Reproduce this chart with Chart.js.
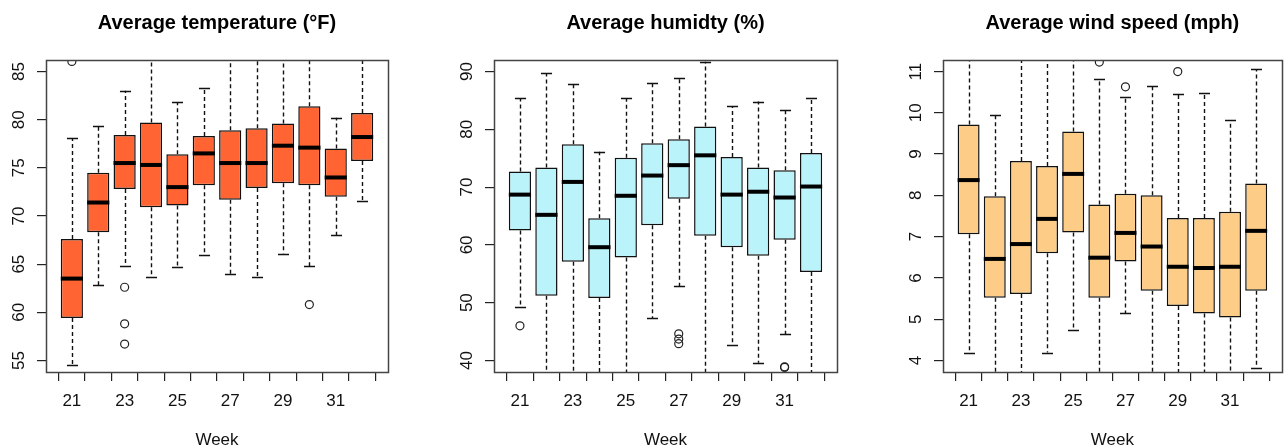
<!DOCTYPE html>
<html>
<head>
<meta charset="utf-8">
<script src="https://cdn.jsdelivr.net/npm/chart.js@4/dist/chart.umd.min.js"></script>
<style>
  html, body { margin: 0; padding: 0; background: #fff; }
  .panel { position: absolute; top: 0; width: 429px; height: 447px; }
</style>
</head>
<body>
<div class="panel" style="left:0"><canvas id="temp-chart" width="429" height="447"></canvas></div>
<div class="panel" style="left:429px"><canvas id="hum-chart" width="429" height="447"></canvas></div>
<div class="panel" style="left:858px"><canvas id="wind-chart" width="429" height="447"></canvas></div>
<script>
// weeks on the x axis, labels only shown on odd weeks (like the R plot)
const weeks = [21, 22, 23, 24, 25, 26, 27, 28, 29, 30, 31, 32];
const weekLabels = [21, 23, 25, 27, 29, 31];

// Average temperature (°F)
const tempLow  = [54.5, 62.8, 64.8, 63.7, 64.7, 65.9, 64.0, 63.7, 66.1, 64.8, 68.0, 71.6];
const tempQ1   = [59.4, 68.3, 72.8, 70.9, 71.1, 73.2, 71.7, 72.9, 73.4, 73.2, 72.0, 75.7];
const tempMed  = [63.5, 71.4, 75.5, 75.3, 73.0, 76.5, 75.5, 75.5, 77.3, 77.1, 74.0, 78.2];
const tempQ3   = [67.6, 74.5, 78.4, 79.7, 76.4, 78.3, 78.9, 79.1, 79.6, 81.4, 77.0, 80.7];
const tempHigh = [78.1, 79.3, 83.0, 88.0, 81.8, 83.3, 88.0, 88.0, 88.0, 88.0, 80.2, 88.0];
const tempOutWeek = [21, 23, 23, 23, 30];
const tempOutVal  = [86.05, 62.6, 58.8, 56.7, 60.8];
const tempTicks = [55, 60, 65, 70, 75, 80, 85];

// Average humidty (%)
const humLow  = [49.3, 36.0, 36.0, 36.0, 36.0, 47.3, 52.8, 36.0, 42.6, 39.6, 44.5, 36.0];
const humQ1   = [62.5, 51.2, 57.1, 50.8, 57.8, 63.4, 68.0, 61.6, 59.6, 58.1, 60.9, 55.3];
const humMed  = [68.7, 65.2, 70.9, 59.6, 68.5, 72.0, 73.8, 75.5, 68.7, 69.2, 68.2, 70.1];
const humQ3   = [72.7, 73.4, 77.4, 64.6, 75.1, 77.6, 78.3, 80.5, 75.2, 73.4, 72.9, 75.9];
const humHigh = [85.4, 89.7, 87.9, 76.1, 85.4, 88.1, 88.9, 91.7, 84.0, 84.8, 83.3, 85.5];
const humOutWeek = [21, 27, 27, 27, 31, 31];
const humOutVal  = [46.0, 44.6, 43.7, 42.9, 38.9, 38.8];
const humTicks = [40, 50, 60, 70, 80, 90];

// Average wind speed (mph)
const windLow  = [4.19, 3.5, 3.5, 4.19, 4.73, 3.5, 5.14, 3.5, 3.5, 3.5, 3.5, 3.82];
const windQ1   = [7.06, 5.52, 5.61, 6.60, 7.10, 5.52, 6.40, 5.69, 5.32, 5.14, 5.04, 5.69];
const windMed  = [8.37, 6.46, 6.82, 7.43, 8.52, 6.49, 7.09, 6.76, 6.27, 6.24, 6.27, 7.14];
const windQ3   = [9.72, 7.98, 8.83, 8.71, 9.55, 7.78, 8.04, 8.00, 7.45, 7.45, 7.60, 8.29];
const windHigh = [11.6, 9.94, 11.6, 11.6, 11.6, 10.82, 10.38, 10.64, 10.45, 10.48, 9.82, 11.06];
const windOutWeek = [26, 27, 29];
const windOutVal  = [11.23, 10.63, 11.0];
const windTicks = [4, 5, 6, 7, 8, 9, 10, 11];

Chart.defaults.font.family = '"Liberation Sans", Arial, sans-serif';
Chart.defaults.color = '#111';

function makeBoxChart(id, title, color, low, q1, med, q3, high, outWeek, outVal, yTicks, yMin, yMax, padLeft, padRight) {
  // whiskers, caps, medians and the plot frame, drawn through the chart scales
  const boxExtras = {
    id: 'boxExtras',
    beforeDatasetsDraw(chart) {
      const { ctx, chartArea: a, scales: { x, y } } = chart;
      const bars = chart.getDatasetMeta(0).data;
      ctx.save();
      ctx.beginPath();
      ctx.rect(a.left, a.top, a.right - a.left, a.bottom - a.top);
      ctx.clip();
      ctx.strokeStyle = '#111';
      ctx.lineWidth = 1.4;
      weeks.forEach((w, i) => {
        const px = Math.round(x.getPixelForValue(w)) + 0.5;
        const half = bars[i].width / 4;
        ctx.setLineDash([4, 3]);
        ctx.beginPath();
        ctx.moveTo(px, y.getPixelForValue(q3[i]));
        ctx.lineTo(px, y.getPixelForValue(high[i]));
        ctx.moveTo(px, y.getPixelForValue(q1[i]));
        ctx.lineTo(px, y.getPixelForValue(low[i]));
        ctx.stroke();
        ctx.setLineDash([]);
        ctx.beginPath();
        [high[i], low[i]].forEach(v => {
          const py = Math.round(y.getPixelForValue(v)) + 0.5;
          ctx.moveTo(px - half, py);
          ctx.lineTo(px + half, py);
        });
        ctx.stroke();
      });
      ctx.restore();
    },
    afterDatasetsDraw(chart) {
      const { ctx, chartArea: a, scales: { y } } = chart;
      const bars = chart.getDatasetMeta(0).data;
      ctx.save();
      ctx.strokeStyle = '#000';
      ctx.lineWidth = 4;
      bars.forEach((bar, i) => {
        const py = y.getPixelForValue(med[i]);
        ctx.beginPath();
        ctx.moveTo(bar.x - bar.width / 2, py);
        ctx.lineTo(bar.x + bar.width / 2, py);
        ctx.stroke();
      });
      ctx.lineWidth = 1.5;
      ctx.strokeStyle = '#444';
      ctx.strokeRect(Math.round(a.left) + 0.5, Math.round(a.top) + 0.5,
        Math.round(a.right - a.left), Math.round(a.bottom - a.top));
      ctx.restore();
    }
  };

  return new Chart(document.getElementById(id), {
    type: 'bar',
    data: {
      datasets: [
        {
          type: 'bar',
          data: weeks.map((w, i) => ({ x: w, y: [q1[i], q3[i]] })),
          backgroundColor: color,
          borderColor: '#111',
          borderWidth: 1.5,
          borderSkipped: false,
          barPercentage: 0.84,
          categoryPercentage: 1.0
        },
        {
          type: 'scatter',
          data: outWeek.map((w, i) => ({ x: w, y: outVal[i] })),
          pointStyle: 'circle',
          pointRadius: 4,
          pointBorderWidth: 1.2,
          pointBorderColor: '#222',
          pointBackgroundColor: 'rgba(0,0,0,0)',
          showLine: false
        }
      ]
    },
    options: {
      responsive: false,
      animation: false,
      events: [],
      layout: { padding: { left: padLeft - 46, right: padRight, top: 0, bottom: 0 } },
      plugins: {
        legend: { display: false },
        tooltip: { enabled: false },
        title: {
          display: true,
          text: title,
          fullSize: false,
          color: '#000',
          font: { size: 20, weight: 'bold' },
          padding: { top: 11, bottom: 25 }
        }
      },
      scales: {
        x: {
          type: 'linear',
          min: 20.02,
          max: 32.98,
          offset: false,
          afterBuildTicks: scale => { scale.ticks = weeks.map(v => ({ value: v })); },
          afterFit: scale => { scale.height = 75; },
          ticks: {
            autoSkip: false,
            maxRotation: 0,
            padding: 10,
            font: { size: 17 },
            callback: v => (weekLabels.includes(v) ? String(v) : '')
          },
          grid: { drawOnChartArea: false, drawTicks: true, tickLength: 9, tickColor: '#222', lineWidth: 1.2 },
          border: { display: true, color: '#444' },
          title: {
            display: true,
            text: 'Week',
            font: { size: 17, lineHeight: 0.8 },
            padding: { top: 0, bottom: 0 }
          }
        },
        y: {
          min: yMin,
          max: yMax,
          afterBuildTicks: scale => { scale.ticks = yTicks.map(v => ({ value: v })); },
          afterFit: scale => { scale.width = 46; },
          ticks: {
            minRotation: 90,
            maxRotation: 90,
            crossAlign: 'center',
            padding: 8,
            font: { size: 17 }
          },
          grid: { drawOnChartArea: false, drawTicks: true, tickLength: 9, tickColor: '#222', lineWidth: 1.2 },
          border: { display: true, color: '#444' }
        }
      }
    },
    plugins: [boxExtras]
  });
}

makeBoxChart('temp-chart', 'Average temperature (°F)', '#FF6432',
  tempLow, tempQ1, tempMed, tempQ3, tempHigh, tempOutWeek, tempOutVal, tempTicks, 53.8, 86.2, 46, 41);
makeBoxChart('hum-chart', 'Average humidty (%)', '#BBF3FB',
  humLow, humQ1, humMed, humQ3, humHigh, humOutWeek, humOutVal, humTicks, 38, 92, 65, 21);
makeBoxChart('wind-chart', 'Average wind speed (mph)', '#FDCD88',
  windLow, windQ1, windMed, windQ3, windHigh, windOutWeek, windOutVal, windTicks, 3.72, 11.28, 85, 2);
</script>
</body>
</html>
